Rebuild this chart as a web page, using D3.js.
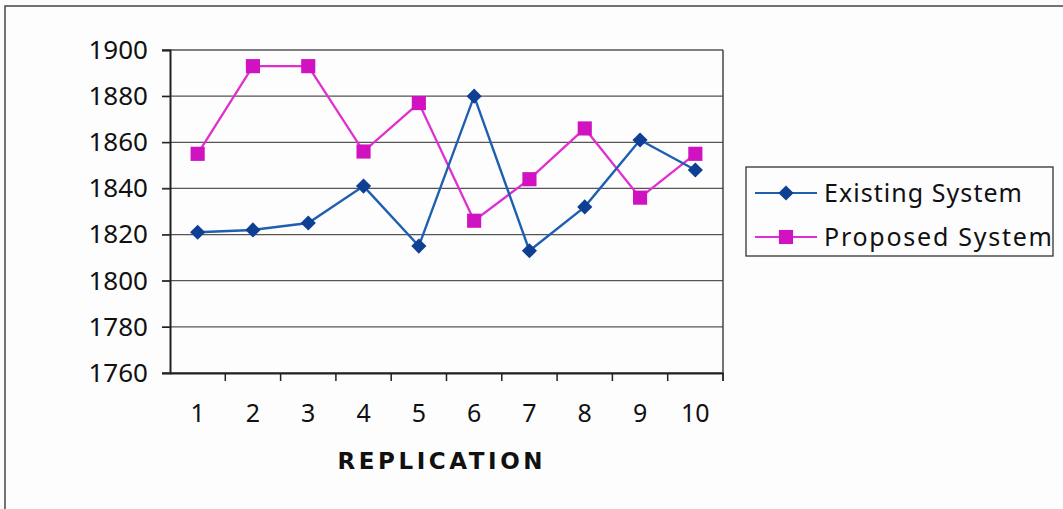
<!DOCTYPE html>
<html>
<head>
<meta charset="utf-8">
<script src="https://cdn.jsdelivr.net/npm/d3@7"></script>
<style>
  html, body { margin: 0; padding: 0; background: #fcfcfc; }
  svg { display: block; }
  text { font-family: "Noto Sans", "Open Sans", sans-serif; fill: #111; }
</style>
</head>
<body>
<div id="chart"></div>
<script>
// values
var replications = ['1', '2', '3', '4', '5', '6', '7', '8', '9', '10'];
var existingSystem = [1821, 1822, 1825, 1841, 1815, 1880, 1813, 1832, 1861, 1848];
var proposedSystem = [1855, 1893, 1893, 1856, 1877, 1826, 1844, 1866, 1836, 1855];
var yTicks = [1760, 1780, 1800, 1820, 1840, 1860, 1880, 1900];
var seriesNames = ['Existing System', 'Proposed System'];

var width = 1063, height = 509;
var plotLeft = 170, plotRight = 723, plotTop = 50, plotBottom = 373;

var blueLine = '#1f5fb0', blueMark = '#0f3f92';
var pinkLine = '#e02fd0', pinkMark = '#d012c0';

var svg = d3.select('#chart').append('svg')
    .attr('width', width)
    .attr('height', height);

// outer chart frame (runs off the right and bottom of the scan)
svg.append('rect')
    .attr('x', 5).attr('y', 6)
    .attr('width', width + 20).attr('height', height + 20)
    .attr('fill', '#fdfdfd')
    .attr('stroke', '#444').attr('stroke-width', 1.5);

var x = d3.scaleBand()
    .domain(replications)
    .range([plotLeft, plotRight]);

var y = d3.scaleLinear()
    .domain([1760, 1900])
    .range([plotBottom, plotTop]);

// gridlines
svg.append('g')
    .selectAll('line')
    .data(yTicks)
    .enter()
    .append('line')
    .attr('x1', plotLeft - 8)
    .attr('x2', plotRight)
    .attr('y1', function(d) { return y(d); })
    .attr('y2', function(d) { return y(d); })
    .attr('stroke', '#555')
    .attr('stroke-width', 1.3);

// right edge of plot area
svg.append('line')
    .attr('x1', plotRight).attr('x2', plotRight)
    .attr('y1', plotTop).attr('y2', plotBottom + 8)
    .attr('stroke', '#444').attr('stroke-width', 1.5);

// y axis
var yAxis = svg.append('g')
    .attr('transform', 'translate(' + plotLeft + ',0)')
    .call(d3.axisLeft(y).tickValues(yTicks).tickSize(8).tickPadding(14).tickFormat(d3.format('d')));
yAxis.select('.domain').attr('stroke', '#222').attr('stroke-width', 2);
yAxis.selectAll('.tick line').attr('stroke', '#222').attr('stroke-width', 1.3);
yAxis.selectAll('text')
    .style('font-size', '26px')
    .attr('fill', '#111');

// x axis: ticks on band boundaries
var xAxis = svg.append('g')
    .attr('transform', 'translate(0,' + plotBottom + ')')
    .call(d3.axisBottom(x).tickSize(0).tickPadding(31));
xAxis.select('.domain').attr('stroke', '#222').attr('stroke-width', 2);
xAxis.selectAll('text')
    .style('font-size', '25px')
    .attr('fill', '#111');

svg.append('g')
    .selectAll('line')
    .data(replications)
    .enter()
    .append('line')
    .attr('x1', function(d) { return x(d) + x.bandwidth(); })
    .attr('x2', function(d) { return x(d) + x.bandwidth(); })
    .attr('y1', plotBottom)
    .attr('y2', plotBottom + 8)
    .attr('stroke', '#222')
    .attr('stroke-width', 1.5);

// x axis title
svg.append('text')
    .attr('x', 440)
    .attr('y', 469)
    .attr('text-anchor', 'middle')
    .attr('textLength', 205)
    .attr('lengthAdjust', 'spacing')
    .style('font-family', '"DejaVu Sans", sans-serif')
    .style('font-size', '23px')
    .style('font-weight', 'bold')
    .text('REPLICATION');

var cx = function(d, i) { return x(replications[i]) + x.bandwidth() / 2; };
var line = d3.line()
    .x(function(d, i) { return cx(d, i); })
    .y(function(d) { return y(d); });

// series lines
svg.append('path')
    .datum(proposedSystem)
    .attr('d', line)
    .attr('fill', 'none')
    .attr('stroke', pinkLine)
    .attr('stroke-width', 2.3);

svg.append('path')
    .datum(existingSystem)
    .attr('d', line)
    .attr('fill', 'none')
    .attr('stroke', blueLine)
    .attr('stroke-width', 2.4);

// markers
var square = d3.symbol().type(d3.symbolSquare).size(200);
var diamond = d3.symbol().type(d3.symbolSquare).size(115);

svg.append('g')
    .selectAll('path')
    .data(proposedSystem)
    .enter()
    .append('path')
    .attr('d', square)
    .attr('transform', function(d, i) { return 'translate(' + cx(d, i) + ',' + y(d) + ')'; })
    .attr('fill', pinkMark);

svg.append('g')
    .selectAll('path')
    .data(existingSystem)
    .enter()
    .append('path')
    .attr('d', diamond)
    .attr('transform', function(d, i) { return 'translate(' + cx(d, i) + ',' + y(d) + ') rotate(45)'; })
    .attr('fill', blueMark);

// legend
var legend = svg.append('g');
legend.append('rect')
    .attr('x', 746).attr('y', 167)
    .attr('width', 307).attr('height', 89)
    .attr('fill', '#fdfdfd')
    .attr('stroke', '#333').attr('stroke-width', 1.3);

var legendItems = [
    { name: seriesNames[0], lineColor: blueLine, markColor: blueMark, symbol: diamond, turn: 'rotate(45)', y: 193, textWidth: 198 },
    { name: seriesNames[1], lineColor: pinkLine, markColor: pinkMark, symbol: square, turn: '', y: 237, textWidth: 228 }
];

var items = legend.selectAll('.item')
    .data(legendItems)
    .enter()
    .append('g')
    .attr('class', 'item')
    .attr('transform', function(d) { return 'translate(755,' + d.y + ')'; });

items.append('line')
    .attr('x1', 0).attr('x2', 62)
    .attr('stroke', function(d) { return d.lineColor; })
    .attr('stroke-width', 2.2);

items.append('path')
    .attr('d', function(d) { return d.symbol(); })
    .attr('transform', function(d) { return 'translate(31,0) ' + d.turn; })
    .attr('fill', function(d) { return d.markColor; });

items.append('text')
    .attr('x', 69)
    .attr('y', 9)
    .attr('textLength', function(d) { return d.textWidth; })
    .attr('lengthAdjust', 'spacing')
    .style('font-size', '25px')
    .text(function(d) { return d.name; });
</script>
</body>
</html>
